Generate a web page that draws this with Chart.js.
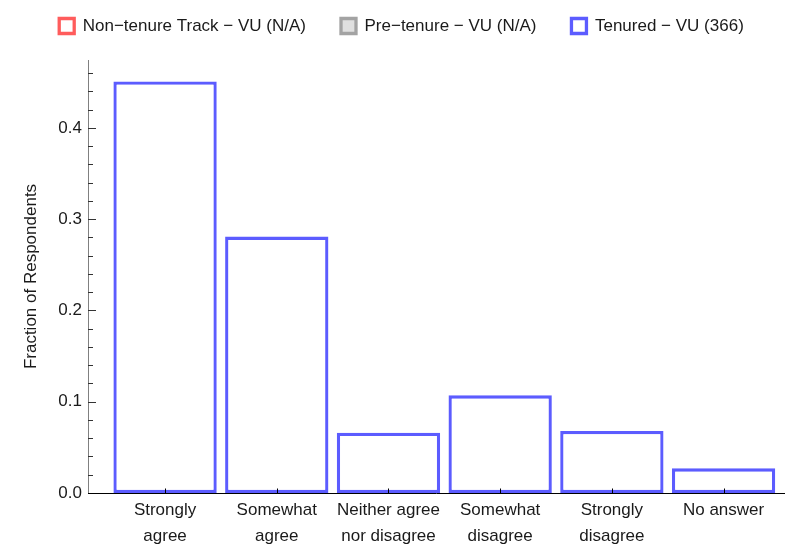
<!DOCTYPE html>
<html>
<head>
<meta charset="utf-8">
<script src="https://cdn.jsdelivr.net/npm/chart.js@4/dist/chart.umd.min.js"></script>
<style>
  html, body { margin: 0; padding: 0; background: #fff; }
  #wrap { width: 785px; height: 551px; }
</style>
</head>
<body>
<div id="wrap"><canvas id="fractionChart"></canvas></div>
<script>
const categories = [
  "Strongly agree",
  "Somewhat agree",
  "Neither agree nor disagree",
  "Somewhat disagree",
  "Strongly disagree",
  "No answer",
];
const xTickLabels = [
  ["Strongly", "agree"],
  ["Somewhat", "agree"],
  ["Neither agree", "nor disagree"],
  ["Somewhat", "disagree"],
  ["Strongly", "disagree"],
  ["No answer"],
];
const seriesNames = [
  "Non\u2212tenure Track \u2212 VU (N/A)",
  "Pre\u2212tenure \u2212 VU (N/A)",
  "Tenured \u2212 VU (366)",
];
const nonTenure = [];
const preTenure = [];
const tenured = [0.451, 0.281, 0.066, 0.107, 0.068, 0.027];
const yMajorTicks = [0, 0.1, 0.2, 0.3, 0.4];
const yTickLabels = ["0.0", "0.1", "0.2", "0.3", "0.4"];

const fontFamily = "'Liberation Sans', Arial, sans-serif";
const textColor = "#1a1a1a";

function toPoints(values) {
  return values.map((v, i) => ({ x: i, y: v }));
}

function isMajor(value) {
  return yMajorTicks.some((v) => Math.abs(v - value) < 1e-6);
}

// keep the wide gap between legend items without pushing the plot down
const legendHeight = {
  id: "legendHeight",
  beforeInit(chart) {
    const fit = chart.legend.fit;
    chart.legend.fit = function () {
      fit.bind(chart.legend)();
      this.height = 77.5;
    };
  },
};

// inward ticks + x axis drawn on top of the bar bottoms
const tickMarks = {
  id: "tickMarks",
  afterDatasetsDraw(chart) {
    const { ctx, chartArea } = chart;
    const x = chart.scales.x;
    const y = chart.scales.y;
    ctx.save();
    ctx.lineWidth = 1;
    ctx.strokeStyle = "#333";
    y.ticks.forEach((t) => {
      const py = Math.round(y.getPixelForValue(t.value)) + 0.5;
      const len = isMajor(t.value) ? 8 : 5;
      ctx.beginPath();
      ctx.moveTo(chartArea.left, py);
      ctx.lineTo(chartArea.left + len, py);
      ctx.stroke();
    });
    const base = Math.round(y.getPixelForValue(0)) + 0.5;
    ctx.strokeStyle = "#000";
    ctx.beginPath();
    ctx.moveTo(chartArea.left, base);
    ctx.lineTo(chartArea.right, base);
    ctx.stroke();
    x.ticks.forEach((t) => {
      const px = Math.round(x.getPixelForValue(t.value)) + 0.5;
      ctx.beginPath();
      ctx.moveTo(px, base);
      ctx.lineTo(px, base - 5);
      ctx.stroke();
    });
    ctx.restore();
  },
};

const barStyle = {
  borderWidth: 3.3,
  grouped: false,
  barPercentage: 0.925,
  categoryPercentage: 1,
  borderSkipped: false,
};

const ctx = document.getElementById("fractionChart").getContext("2d");
const fractionChart = new Chart(ctx, {
  type: "bar",
  data: {
    datasets: [
      {
        ...barStyle,
        label: seriesNames[0],
        data: toPoints(nonTenure),
        borderColor: "#ff5c5c",
        backgroundColor: "#ffffff",
      },
      {
        ...barStyle,
        label: seriesNames[1],
        data: toPoints(preTenure),
        borderColor: "#a3a3a3",
        backgroundColor: "#e0e0e0",
      },
      {
        ...barStyle,
        label: seriesNames[2],
        data: toPoints(tenured),
        borderColor: "#5c5cff",
        backgroundColor: "#ffffff",
      },
    ],
  },
  options: {
    responsive: true,
    maintainAspectRatio: false,
    devicePixelRatio: 1,
    animation: false,
    layout: {
      padding: { top: -17.5, left: 18, right: 0, bottom: 0 },
    },
    plugins: {
      tooltip: { enabled: false },
      legend: {
        position: "top",
        labels: {
          color: textColor,
          font: { family: fontFamily, size: 17 },
          boxWidth: 15,
          boxHeight: 15,
          padding: 35,
        },
      },
    },
    scales: {
      x: {
        type: "linear",
        offset: false,
        bounds: "data",
        min: -0.69,
        max: 5.55,
        afterBuildTicks: (scale) => {
          scale.ticks = categories.map((c, i) => ({ value: i }));
        },
        afterFit: (scale) => {
          scale.height = 58;
        },
        ticks: {
          color: textColor,
          font: { family: fontFamily, size: 17, lineHeight: 1.53 },
          padding: 4,
          maxRotation: 0,
          autoSkip: false,
          callback: (value) => xTickLabels[value],
        },
        grid: { display: false, drawTicks: false },
        border: { display: false },
      },
      y: {
        min: 0,
        max: 0.4745,
        bounds: "data",
        afterBuildTicks: (scale) => {
          const ticks = [];
          for (let i = 0; i <= 23; i++) {
            ticks.push({ value: Math.round(i * 2) / 100 });
          }
          scale.ticks = ticks;
        },
        afterFit: (scale) => {
          scale.width = 70;
        },
        ticks: {
          color: textColor,
          font: { family: fontFamily, size: 17 },
          padding: 6,
          autoSkip: false,
          callback: (value) => {
            const i = yMajorTicks.findIndex((v) => Math.abs(v - value) < 1e-6);
            return i >= 0 ? yTickLabels[i] : "";
          },
        },
        grid: { display: false, drawTicks: false },
        border: { display: true, color: "#808080", width: 1 },
        title: {
          display: true,
          text: "Fraction of Respondents",
          color: textColor,
          font: { family: fontFamily, size: 17 },
          padding: { top: 3, bottom: 0 },
        },
      },
    },
  },
  plugins: [legendHeight, tickMarks],
});
</script>
</body>
</html>
